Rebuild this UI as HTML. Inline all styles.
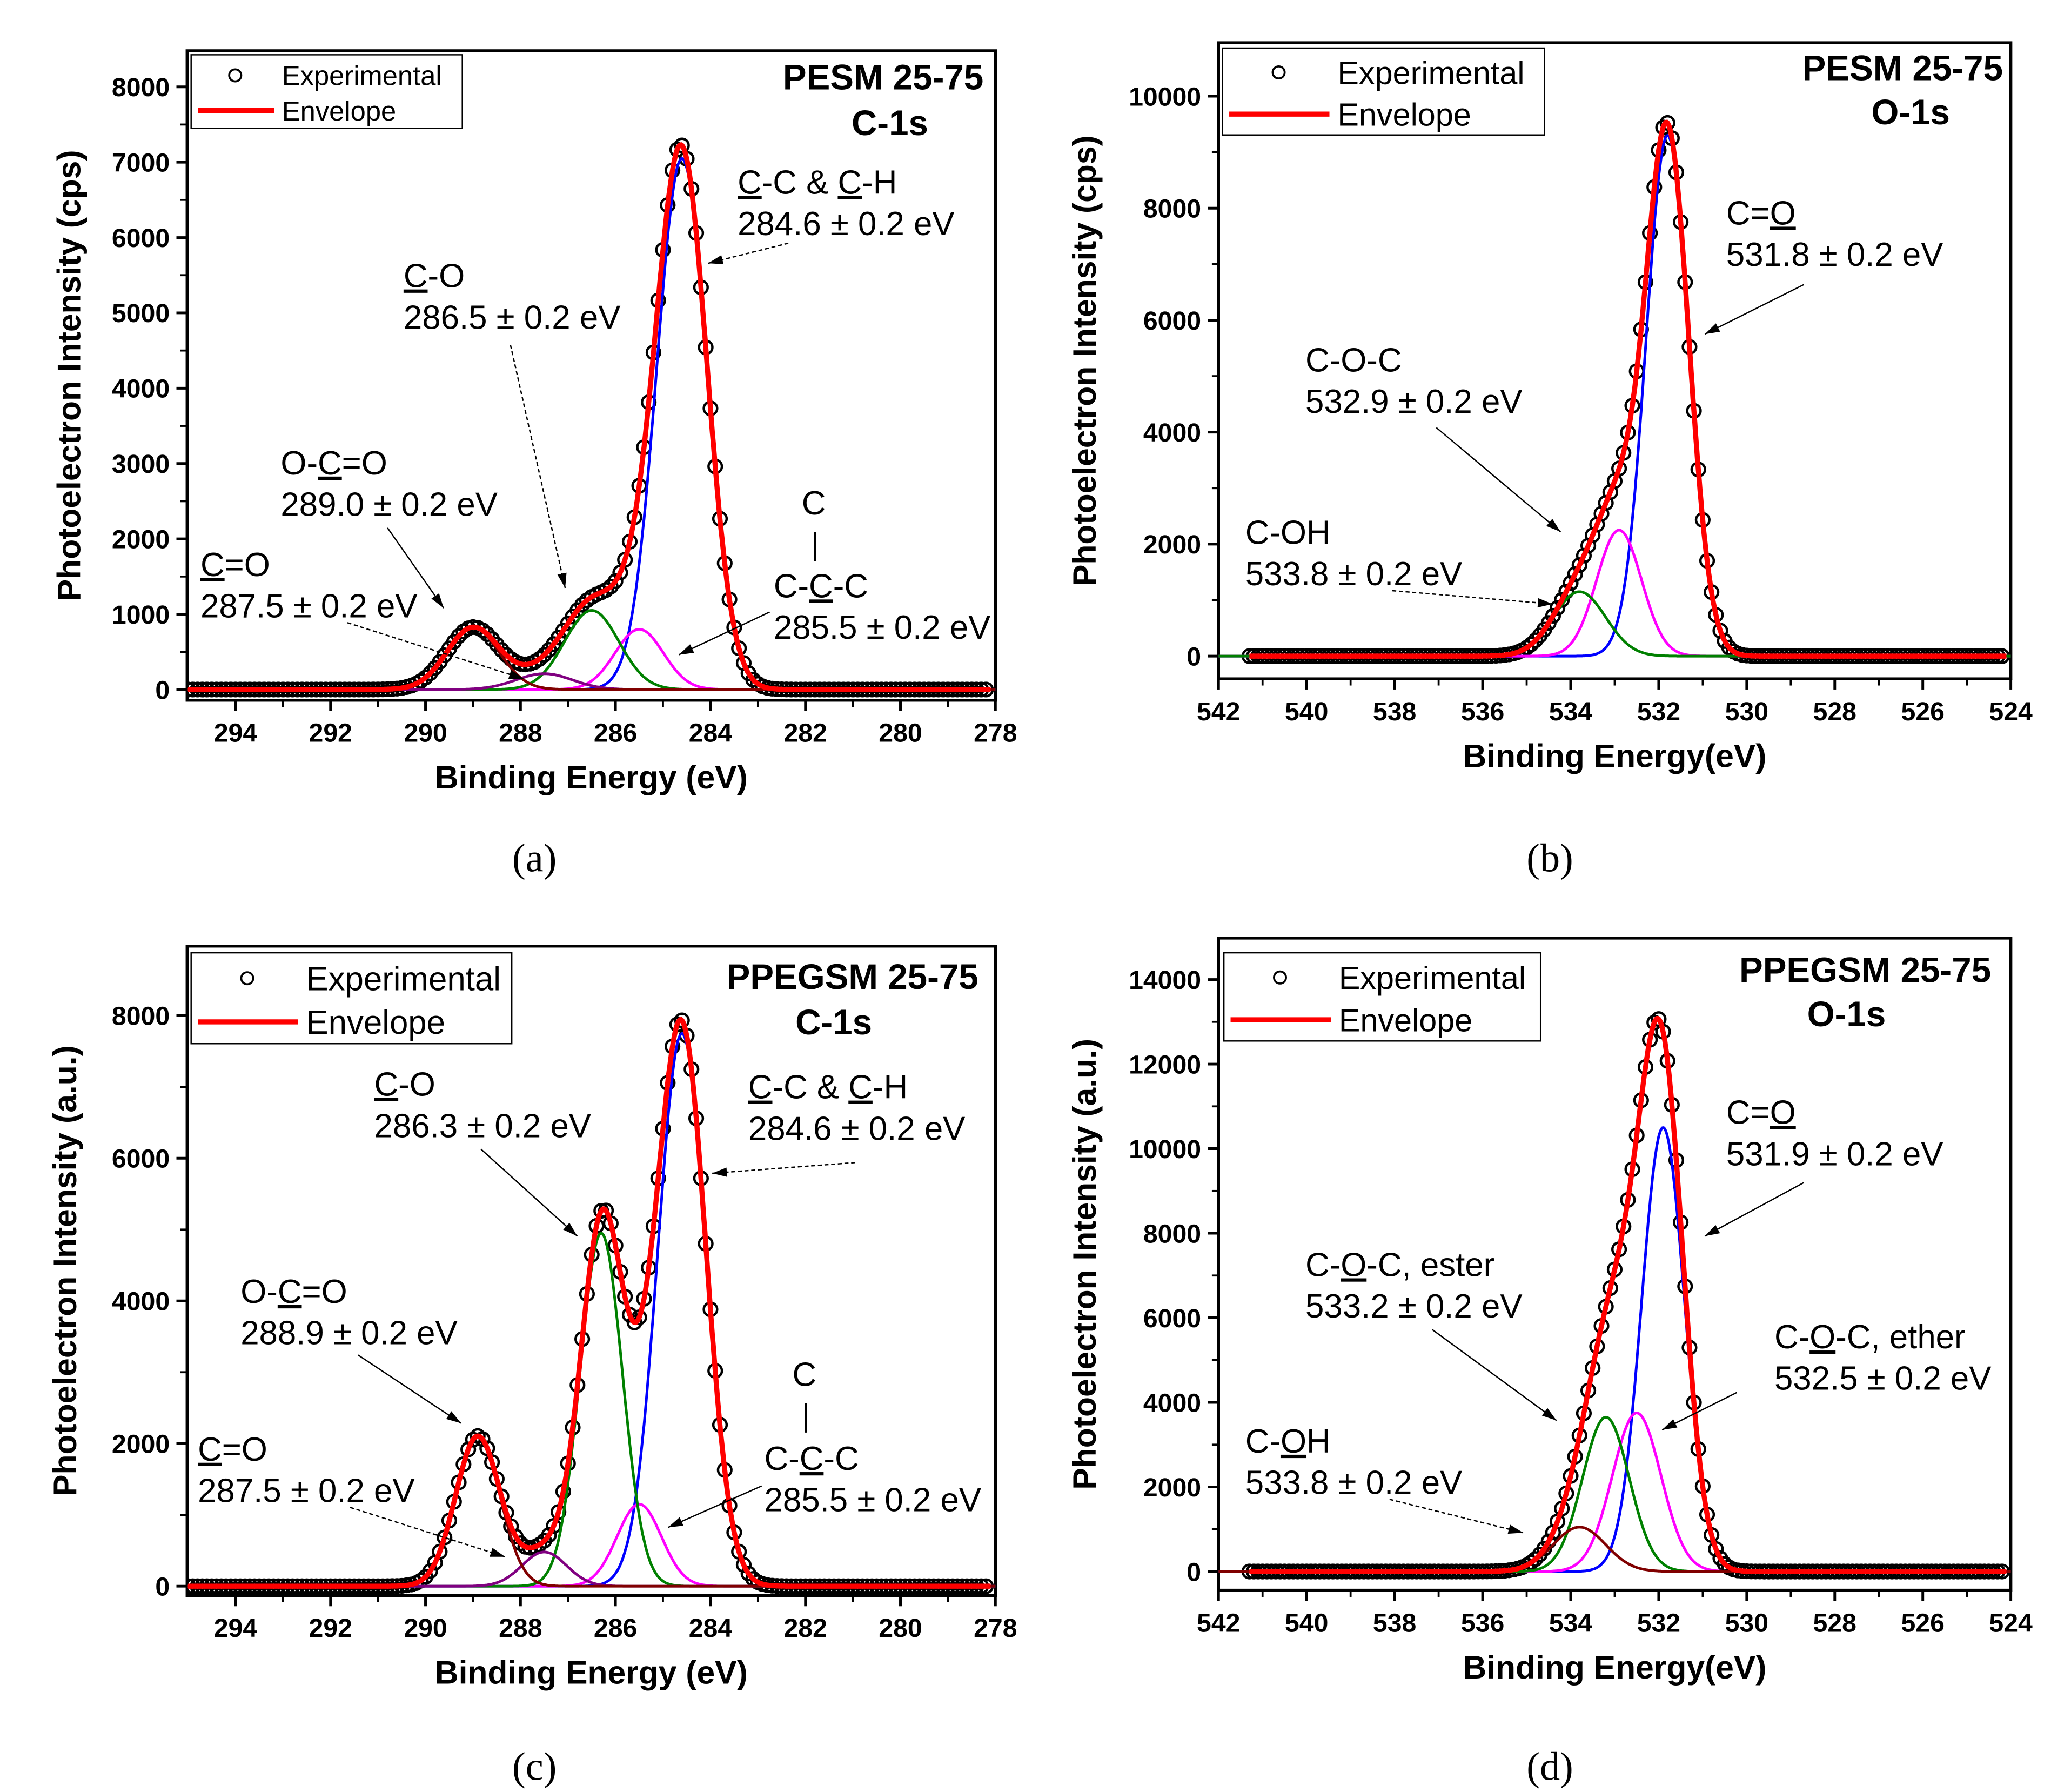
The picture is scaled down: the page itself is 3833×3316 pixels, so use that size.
<!DOCTYPE html>
<html><head><meta charset="utf-8"><style>
html,body{margin:0;padding:0;background:#fff;}
svg{display:block;font-family:"Liberation Sans",Arial,sans-serif;}
</style></head><body>
<svg id="fig" width="3833" height="3316" viewBox="0 0 1550 1341" xmlns="http://www.w3.org/2000/svg"></svg>
<script>
// ---- Data (binding energy eV, intensity) ----
const aCenters=[284.6,285.5,286.5,287.5,289.0];
const aHeights=[7050,800,1050,210,820];
const aFwhm=[1.25,1.2,1.35,1.4,1.3];
const bCenters=[531.8,532.9,533.8];
const bHeights=[9300,2250,1150];
const bFwhm=[1.15,1.2,1.4];
const cCenters=[284.6,285.5,286.3,287.5,288.9];
const cHeights=[7750,1150,4950,480,2100];
const cFwhm=[1.2,1.1,1.05,1.1,1.1];
const dCenters=[531.9,532.5,533.2,533.8];
const dHeights=[10500,3750,3650,1050];
const dFwhm=[1.15,1.3,1.25,1.4];
const cTicksX=[294,292,290,288,286,284,282,280,278];
const oTicksX=[542,540,538,536,534,532,530,528,526,524];
const aTicksY=[0,1000,2000,3000,4000,5000,6000,7000,8000];
const bTicksY=[0,2000,4000,6000,8000,10000];
const cTicksY=[0,2000,4000,6000,8000];
const dTicksY=[0,2000,4000,6000,8000,10000,12000,14000];

const NS="http://www.w3.org/2000/svg";
const svg=document.getElementById('fig');
function el(tag,attrs,parent,text){const e=document.createElementNS(NS,tag);for(const k in attrs)e.setAttribute(k,attrs[k]);if(text!==undefined)e.textContent=text;(parent||svg).appendChild(e);return e;}
function gauss(x,c,h,f){const s=f/2.3548;return h*Math.exp(-(x-c)*(x-c)/(2*s*s));}

const colorsC=['#0000ff','#ff00ff','#008000','#800080','#800000'];
const colorsO=['#0000ff','#ff00ff','#008000','#800000'];

function panel(p){
  const g=el('g',{});
  
  
  const X=v=>p.x0+(v-p.xa)/(p.xb-p.xa)*(p.x1-p.x0);
  const Y=v=>p.yz+(v)*(p.y8-p.yz)/p.yv;
  const fr=el('rect',{x:p.x0,y:p.top,width:p.x1-p.x0,height:p.bot-p.top,fill:'none',stroke:'#000','stroke-width':2.2},g);
  
  p.xt.forEach((t,i)=>{
    const x=X(t);
    el('line',{x1:x,y1:p.bot,x2:x,y2:p.bot+8,stroke:'#000','stroke-width':2},g);
    const lb=el('text',{x:x,y:p.bot+31,'text-anchor':'middle','font-size':19.5,'font-weight':'bold'},g,t);
    
    if(i<p.xt.length-1){const xm=X(t+(p.xt[1]-p.xt[0])/2);el('line',{x1:xm,y1:p.bot,x2:xm,y2:p.bot+5,stroke:'#000','stroke-width':1.5},g);}
  });
  p.yt.forEach((t,i)=>{
    const y=Y(t);
    el('line',{x1:p.x0-8,y1:y,x2:p.x0,y2:y,stroke:'#000','stroke-width':2},g);
    const lb=el('text',{x:p.x0-13,y:y+7,'text-anchor':'end','font-size':19.5,'font-weight':'bold'},g,t);
    
    if(i<p.yt.length-1){const ym=Y(t+(p.yt[1]-p.yt[0])/2);el('line',{x1:p.x0-5,y1:ym,x2:p.x0,y2:ym,stroke:'#000','stroke-width':1.5},g);}
  });
  const xt=el('text',{x:(p.x0+p.x1)/2,y:p.bot+66,'text-anchor':'middle','font-size':24.5,'font-weight':'bold'},g,p.xtitle);
  
  const yc=(p.top+p.bot)/2;
  const yt=el('text',{x:p.ylx,y:yc,'text-anchor':'middle','font-size':24.5,'font-weight':'bold',transform:`rotate(-90 ${p.ylx} ${yc})`},g,p.ytitle);
  
  const cid='clip'+p.name;
  const cp=el('clipPath',{id:cid},g);el('rect',{x:p.x0,y:p.top,width:p.x1-p.x0,height:p.bot-p.top},cp);
  const pg=el('g',{'clip-path':`url(#${cid})`},g);
  const env=v=>{let s=0;for(let k=0;k<p.c.length;k++)s+=gauss(v,p.c[k],p.h[k],p.f[k]);return s;};
  for(let v=p.ex0;v>=p.ex1;v-=0.1){
    const pt=el('circle',{cx:X(v),cy:Y(env(v)),r:5,fill:'none',stroke:'#000','stroke-width':1.8},pg);
    
  }
  for(let k=0;k<p.c.length;k++){
    let d='';
    for(let v=p.xa;v>=p.xb;v-=0.02){d+=(d?'L':'M')+X(v).toFixed(1)+','+Y(gauss(v,p.c[k],p.h[k],p.f[k])).toFixed(1);}
    const cl=el('path',{d:d,fill:'none',stroke:p.col[k],'stroke-width':2},pg);
    
  }
  let d='';
  for(let v=p.ex0;v>=p.ex1;v-=0.02){d+=(d?'L':'M')+X(v).toFixed(1)+','+Y(env(v)).toFixed(1);}
  const ev=el('path',{d:d,fill:'none',stroke:'#ff0000','stroke-width':3.8},pg);
  
  const lg=el('g',{},g);
  
  const L=p.leg;
  el('rect',{x:L[0],y:L[1],width:L[2],height:L[3],fill:'#fff',stroke:'#000','stroke-width':1},lg);
  el('circle',{cx:L[0]+L[4]/2+2,cy:L[1]+L[3]*0.28,r:4.5,fill:'none',stroke:'#000','stroke-width':1.5},lg);
  el('line',{x1:L[0]+5,y1:L[1]+L[3]*0.76,x2:L[0]+L[4],y2:L[1]+L[3]*0.76,stroke:'#ff0000','stroke-width':3.8},lg);
  el('text',{x:L[0]+L[4]+6,y:L[1]+L[3]*0.28+L[5]*0.36,'font-size':L[5]},lg,'Experimental');
  el('text',{x:L[0]+L[4]+6,y:L[1]+L[3]*0.76+L[5]*0.36,'font-size':L[5]},lg,'Envelope');
  p.title.forEach(t=>{const tt=el('text',{x:t[0],y:t[1],'text-anchor':'middle','font-size':26.5,'font-weight':'bold'},g,t[2]);});
  p.ann.forEach(a=>{
    const t=el('text',{x:a[0],y:a[1],'font-size':25},g);
    
    a[2].forEach(s=>{const ts=el('tspan',{},t,s[0]);if(s[1])ts.setAttribute('text-decoration','underline');});
  });
  p.arrows.forEach(a=>{
    const ar=el('g',{},g);
    el('line',{x1:a[0],y1:a[1],x2:a[2],y2:a[3],stroke:'#000','stroke-width':1,'stroke-dasharray':a[4]?'3,2':''},ar);
    const ang=Math.atan2(a[3]-a[1],a[2]-a[0]);const l=11,w=3.5;
    const bx=a[2]-l*Math.cos(ang),by=a[3]-l*Math.sin(ang);
    el('polygon',{points:`${a[2]},${a[3]} ${bx-w*Math.sin(ang)},${by+w*Math.cos(ang)} ${bx+w*Math.sin(ang)},${by-w*Math.cos(ang)}`,fill:'#000'},ar);
  });
  const cap=el('text',{x:p.cap[0],y:p.cap[1],'text-anchor':'middle','font-size':30,'font-family':'"Liberation Serif",serif'},g,p.cap[2]);
  
}
const eV=' \u00b1 0.2 eV';
panel({name:'panel-a',x0:140,x1:745,top:38,bot:524,xa:295.02,xb:278.0,yz:516,y8:65,yv:8000,
  xt:cTicksX,yt:aTicksY,c:aCenters,h:aHeights,f:aFwhm,col:colorsC,ex0:295,ex1:278.1,
  xtitle:'Binding Energy (eV)',ytitle:'Photoelectron Intensity (cps)',ylx:60,
  leg:[143,41,203,55,62,20.5],title:[[661,67,'PESM 25-75'],[666,101,'C-1s']],
  ann:[[552,145,[['C',1],['-C & '],['C',1],['-H']]],[552,176,[['284.6'+eV]]],
       [302,215,[['C',1],['-O']]],[302,246,[['286.5'+eV]]],
       [210,355,[['O-'],['C',1],['=O']]],[210,386,[['289.0'+eV]]],
       [150,431,[['C',1],['=O']]],[150,462,[['287.5'+eV]]],
       [600,385,[['C']]],[579,447,[['C-'],['C',1],['-C']]],[579,478,[['285.5'+eV]]]],
  arrows:[[590,182,530,197,true],[382,258,423,440,true],[290,395,332,455,false],[260,466,392,508,true],[576,458,508,490,false]],
  cap:[400,652,'(a)']});
el('line',{x1:610,y1:398,x2:610,y2:420,stroke:'#000','stroke-width':1.5});
panel({name:'panel-b',x0:912,x1:1505,top:32,bot:508,xa:542,xb:524,yz:491,y8:72,yv:10000,
  xt:oTicksX,yt:bTicksY,c:bCenters,h:bHeights,f:bFwhm,col:colorsO,ex0:541.3,ex1:524.1,
  xtitle:'Binding Energy(eV)',ytitle:'Photoelectron Intensity (cps)',ylx:820,
  leg:[915,36,241,65,80,24],title:[[1424,60,'PESM 25-75'],[1430,93,'O-1s']],
  ann:[[1292,168,[['C='],['O',1]]],[1292,199,[['531.8'+eV]]],
       [977,278,[['C-O-C']]],[977,309,[['532.9'+eV]]],
       [932,407,[['C-OH']]],[932,438,[['533.8'+eV]]]],
  arrows:[[1350,213,1276,250,false],[1075,320,1168,398,false],[1042,442,1162,452,true]],
  cap:[1160,652,'(b)']});
panel({name:'panel-c',x0:140,x1:745,top:708,bot:1194,xa:295.02,xb:278.0,yz:1187,y8:760,yv:8000,
  xt:cTicksX,yt:cTicksY,c:cCenters,h:cHeights,f:cFwhm,col:colorsC,ex0:295,ex1:278.1,
  xtitle:'Binding Energy (eV)',ytitle:'Photoelectron Intensity (a.u.)',ylx:57,
  leg:[143,713,240,68,80,25],title:[[638,740,'PPEGSM 25-75'],[624,774,'C-1s']],
  ann:[[560,822,[['C',1],['-C & '],['C',1],['-H']]],[560,853,[['284.6'+eV]]],
       [280,820,[['C',1],['-O']]],[280,851,[['286.3'+eV]]],
       [180,975,[['O-'],['C',1],['=O']]],[180,1006,[['288.9'+eV]]],
       [148,1093,[['C',1],['=O']]],[148,1124,[['287.5'+eV]]],
       [593,1037,[['C']]],[572,1100,[['C-'],['C',1],['-C']]],[572,1131,[['285.5'+eV]]]],
  arrows:[[640,870,533,878,true],[360,860,432,925,false],[268,1014,345,1065,false],[262,1128,378,1165,true],[570,1112,500,1143,false]],
  cap:[400,1332,'(c)']});
el('line',{x1:603,y1:1050,x2:603,y2:1072,stroke:'#000','stroke-width':1.5});
panel({name:'panel-d',x0:912,x1:1505,top:702,bot:1190,xa:542,xb:524,yz:1176,y8:733,yv:14000,
  xt:oTicksX,yt:dTicksY,c:dCenters,h:dHeights,f:dFwhm,col:colorsO,ex0:541.3,ex1:524.1,
  xtitle:'Binding Energy(eV)',ytitle:'Photoelectron Intensity (a.u.)',ylx:820,
  leg:[916,713,237,66,80,24],title:[[1396,735,'PPEGSM 25-75'],[1382,768,'O-1s']],
  ann:[[1292,841,[['C='],['O',1]]],[1292,872,[['531.9'+eV]]],
       [977,955,[['C-'],['O',1],['-C, ester']]],[977,986,[['533.2'+eV]]],
       [1328,1009,[['C-'],['O',1],['-C, ether']]],[1328,1040,[['532.5'+eV]]],
       [932,1087,[['C-'],['O',1],['H']]],[932,1118,[['533.8'+eV]]]],
  arrows:[[1350,885,1276,925,false],[1072,995,1165,1063,false],[1300,1042,1244,1070,false],[1040,1122,1140,1147,true]],
  cap:[1160,1332,'(d)']});
</script>
</body></html>
